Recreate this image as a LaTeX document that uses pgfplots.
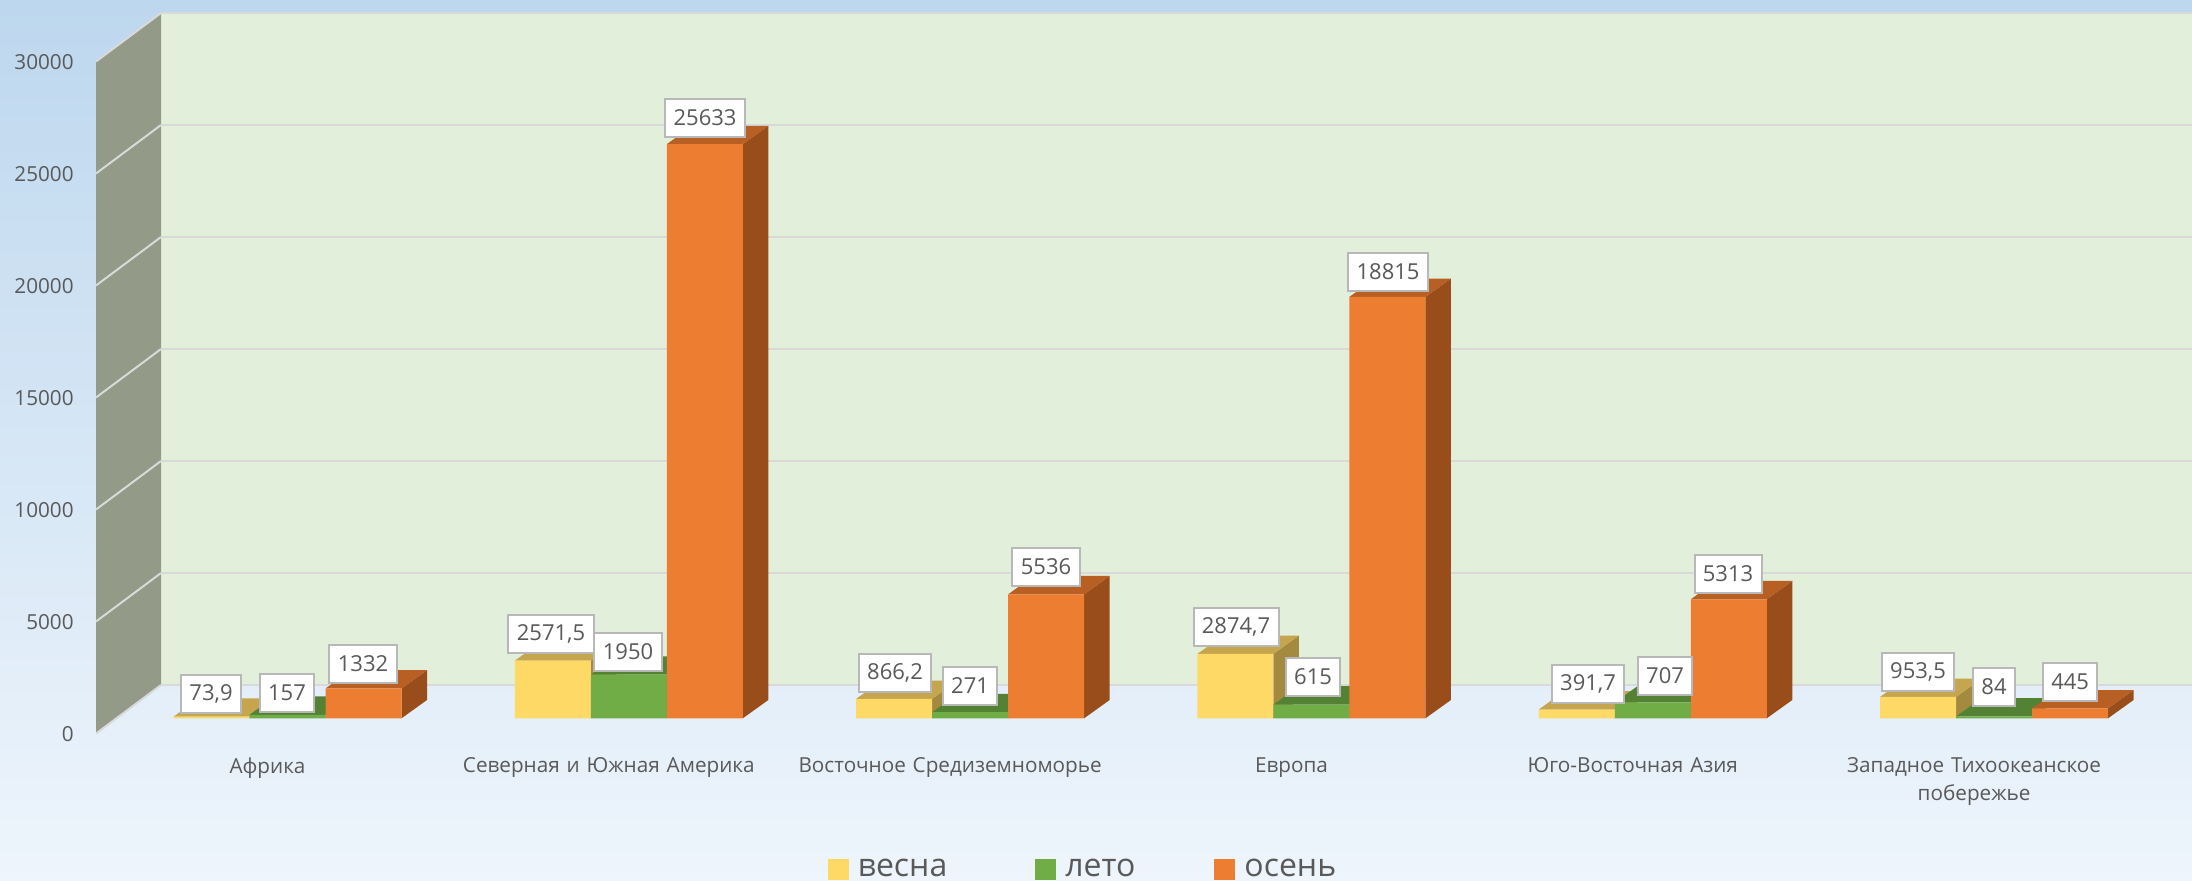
\documentclass[border=0pt]{standalone}
\usepackage{pgfplots}
\pgfplotsset{compat=1.18}
\usepackage{pgfplotstable}
\usepackage{fontspec}
\setmainfont{Open Sans}
\definecolor{txt}{HTML}{595959}
\definecolor{bgA}{HTML}{BDD7EE}
\definecolor{bgB}{HTML}{DCE9F6}
\definecolor{bgC}{HTML}{EEF5FC}
\definecolor{wall}{HTML}{E2EFDA}
\definecolor{side}{HTML}{939A87}
\definecolor{grid}{HTML}{D9D9D9}
\definecolor{yF}{HTML}{FFD966}
\definecolor{yT}{HTML}{C5A64E}
\definecolor{yS}{HTML}{A38A3F}
\definecolor{gF}{HTML}{70AD47}
\definecolor{gT}{HTML}{548235}
\definecolor{gS}{HTML}{4B7530}
\definecolor{oF}{HTML}{ED7D31}
\definecolor{oT}{HTML}{B85F23}
\definecolor{oS}{HTML}{984D1A}
% depth faces of one bar: group, value, value+depth, bar shift, top colour, side colour
\newcommand{\depth}[6]{%
  \pgfmathsetmacro\xa{#1+#4-0.1113}%
  \pgfmathsetmacro\xb{#1+#4+0.1113}%
  \pgfmathsetmacro\xc{\xa+0.0747}%
  \pgfmathsetmacro\xd{\xb+0.0747}%
  \addplot[forget plot,fill=#6,draw=none,mark=none] coordinates {(\xb,0) (\xd,817) (\xd,#3) (\xb,#2)};
  \addplot[forget plot,fill=#5,draw=none,mark=none] coordinates {(\xa,#2) (\xb,#2) (\xd,#3) (\xc,#3)};
}
\begin{document}
\begin{tikzpicture}
\path[use as bounding box] (0,0) rectangle (1096pt,440.5pt);
\begin{axis}[
  at={(0,0)},anchor=south west,
  scale only axis,width=1096pt,height=440.5pt,
  xmin=-0.8424,xmax=5.58,ymin=-7263,ymax=32067,
  axis line style={draw=none},
  major tick length=0pt,
  axis background/.style={shade,shading angle=0,top color=bgA,middle color=bgB,bottom color=bgC},
  font=\fontsize{10.35pt}{14pt}\selectfont,
  tick label style={text=txt},
  /pgf/number format/assume math mode=true,
  /pgf/number format/set thousands separator={},
  scaled y ticks=false,
  ytick={0,5000,...,30000},
  y tick label style={anchor=east,inner sep=0pt,xshift=37pt,yshift=-8.1pt},
  xtick={0,1,2,3,4,5},
  xticklabels={Африка,Северная и Южная Америка,Восточное Средиземноморье,Европа,Юго-Восточная Азия,Западное Тихоокеанское побережье},
  x tick label style={anchor=north,inner sep=0pt,text width=165pt,align=center,xshift=-10pt,yshift=62pt},
  legend columns=3,
  legend style={draw=none,fill=none,at={(0.5,0)},anchor=center,xshift=-6pt,yshift=5.8pt,
    font=\fontsize{16pt}{18pt}\selectfont,text=txt,
    /tikz/column 1/.style={column sep=2.5pt},
    /tikz/column 2/.style={column sep=42pt},
    /tikz/column 3/.style={column sep=2.5pt},
    /tikz/column 4/.style={column sep=37.5pt},
    /tikz/column 5/.style={column sep=2.5pt}},
  legend cell align=left,
]
% walls
\addplot[forget plot,fill=wall,draw=none,mark=none] coordinates {(-0.3706,1487) (5.58,1487) (5.58,31487) (-0.3706,31487)};
\addplot[forget plot,fill=side,draw=none,mark=none] coordinates {(-0.5611,-680) (-0.3706,1487) (-0.3706,31487) (-0.5611,29320)};
\addplot[forget plot,draw=grid,line width=1.25pt,mark=none] coordinates {(-0.3706,1487) (5.58,1487)};
\addplot[forget plot,draw=grid,line width=1.25pt,mark=none] coordinates {(-0.3706,6487) (5.58,6487)};
\addplot[forget plot,draw=grid,line width=1.25pt,mark=none] coordinates {(-0.3706,11487) (5.58,11487)};
\addplot[forget plot,draw=grid,line width=1.25pt,mark=none] coordinates {(-0.3706,16487) (5.58,16487)};
\addplot[forget plot,draw=grid,line width=1.25pt,mark=none] coordinates {(-0.3706,21487) (5.58,21487)};
\addplot[forget plot,draw=grid,line width=1.25pt,mark=none] coordinates {(-0.3706,26487) (5.58,26487)};
\addplot[forget plot,draw=grid,line width=1.25pt,mark=none] coordinates {(-0.3706,31487) (5.58,31487)};
\addplot[forget plot,draw=grid,line width=1pt,mark=none] coordinates {(-0.5611,-680) (-0.3706,1487)};
\addplot[forget plot,draw=grid,line width=1pt,mark=none] coordinates {(-0.5611,4320) (-0.3706,6487)};
\addplot[forget plot,draw=grid,line width=1pt,mark=none] coordinates {(-0.5611,9320) (-0.3706,11487)};
\addplot[forget plot,draw=grid,line width=1pt,mark=none] coordinates {(-0.5611,14320) (-0.3706,16487)};
\addplot[forget plot,draw=grid,line width=1pt,mark=none] coordinates {(-0.5611,19320) (-0.3706,21487)};
\addplot[forget plot,draw=grid,line width=1pt,mark=none] coordinates {(-0.5611,24320) (-0.3706,26487)};
\addplot[forget plot,draw=grid,line width=1pt,mark=none] coordinates {(-0.5611,29320) (-0.3706,31487)};
% spring
\depth{0}{73.9}{890.9}{-0.2227}{yT}{yS}
\depth{1}{2571.5}{3388.5}{-0.2227}{yT}{yS}
\depth{2}{866.2}{1683.2}{-0.2227}{yT}{yS}
\depth{3}{2874.7}{3691.7}{-0.2227}{yT}{yS}
\depth{4}{391.7}{1208.7}{-0.2227}{yT}{yS}
\depth{5}{953.5}{1770.5}{-0.2227}{yT}{yS}
\addplot[ybar,bar width=0.2227,bar shift=-0.2227,fill=yF,draw=none,mark=none,
  legend image code/.code={\fill[yF] (0cm,-5.25pt) rectangle (10.5pt,5.25pt);}]
  coordinates {(0,73.9) (1,2571.5) (2,866.2) (3,2874.7) (4,391.7) (5,953.5)};
\addlegendentry{весна}
% summer
\depth{0}{157}{974}{0}{gT}{gS}
\depth{1}{1950}{2767}{0}{gT}{gS}
\depth{2}{271}{1088}{0}{gT}{gS}
\depth{3}{615}{1432}{0}{gT}{gS}
\depth{4}{707}{1524}{0}{gT}{gS}
\depth{5}{84}{901}{0}{gT}{gS}
\addplot[ybar,bar width=0.2227,bar shift=0,fill=gF,draw=none,mark=none,
  legend image code/.code={\fill[gF] (0cm,-5.25pt) rectangle (10.5pt,5.25pt);}]
  coordinates {(0,157) (1,1950) (2,271) (3,615) (4,707) (5,84)};
\addlegendentry{лето}
% autumn
\depth{0}{1332}{2149}{0.2227}{oT}{oS}
\depth{1}{25633}{26450}{0.2227}{oT}{oS}
\depth{2}{5536}{6353}{0.2227}{oT}{oS}
\depth{3}{18815}{19632}{0.2227}{oT}{oS}
\depth{4}{5313}{6130}{0.2227}{oT}{oS}
\depth{5}{445}{1262}{0.2227}{oT}{oS}
\addplot[ybar,bar width=0.2227,bar shift=0.2227,fill=oF,draw=none,mark=none,
  legend image code/.code={\fill[oF] (0cm,-5.25pt) rectangle (10.5pt,5.25pt);}]
  coordinates {(0,1332) (1,25633) (2,5536) (3,18815) (4,5313) (5,445)};
\addlegendentry{осень}
% data labels, at their positions in the picture
\addplot[forget plot,draw=none,mark=none,
  nodes near coords,point meta=explicit symbolic,
  every node near coord/.append style={anchor=center,yshift=-0.5pt,fill=white,draw=grid!85!black,line width=1pt,
    text=txt,inner sep=0pt,inner xsep=4.2pt,minimum height=19pt,font=\fontsize{11pt}{12pt}\selectfont}]
  table[x expr={(\thisrow{px}-287.5)/341.3},y expr={(718.3-\thisrow{py})/0.0224},meta=lab] {
px py lab
211 693 73,9
287 692 157
363 663 1332
551 633 2571,5
628 651 1950
705 117 25633
895 672 866,2
970 685 271
1046 566 5536
1236 626 2874,7
1313 676 615
1388 271 18815
1588 683 391,7
1665 675 707
1728 573 5313
1918 671 953,5
1994 686 84
2070 681 445
};
\end{axis}
\end{tikzpicture}
\end{document}
